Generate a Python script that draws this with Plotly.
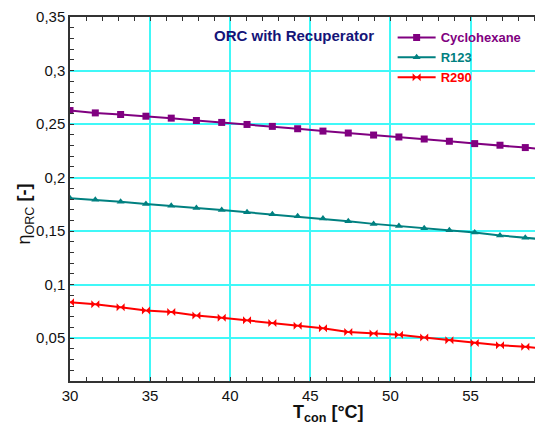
import plotly.graph_objects as go

t_con = [30.00, 31.58, 33.16, 34.74, 36.32, 37.89, 39.47, 41.05, 42.63, 44.21,
         45.79, 47.37, 48.95, 50.53, 52.11, 53.68, 55.26, 56.84, 58.42, 60.00]
eta_cyclohexane = [0.2627, 0.2605, 0.2590, 0.2574, 0.2556, 0.2534, 0.2516, 0.2497, 0.2479, 0.2457,
                   0.2435, 0.2417, 0.2398, 0.2380, 0.2361, 0.2340, 0.2318, 0.2303, 0.2281, 0.2259]
eta_r123 = [0.1808, 0.1794, 0.1775, 0.1753, 0.1738, 0.1716, 0.1697, 0.1676, 0.1657, 0.1639,
            0.1618, 0.1593, 0.1568, 0.1549, 0.1528, 0.1509, 0.1488, 0.1460, 0.1438, 0.1417]
eta_r290 = [0.0836, 0.0818, 0.0790, 0.0759, 0.0744, 0.0713, 0.0690, 0.0667, 0.0641, 0.0616,
            0.0593, 0.0558, 0.0544, 0.0531, 0.0506, 0.0481, 0.0454, 0.0435, 0.0419, 0.0398]

series = [
    ("Cyclohexane", eta_cyclohexane, "#800080", "square", 7),
    ("R123", eta_r123, "#008080", "triangle-up", 7),
    ("R290", eta_r290, "#FF0000", "bowtie", 8),
]

FONT = "Liberation Sans, Arial, sans-serif"
fig = go.Figure()
for name, ys, col, sym, sz in series:
    fig.add_trace(go.Scatter(
        x=t_con, y=ys, mode="lines+markers",
        name=f'<span style="color:{col}"><b>{name}</b></span>',
        line=dict(color=col, width=2),
        marker=dict(symbol=sym, size=sz, color=col),
    ))

axis_common = dict(
    showline=True, linecolor="#333333", linewidth=1.5, mirror="allticks",
    ticks="inside", ticklen=4, tickcolor="#333333",
    showgrid=True, gridcolor="#40F8F8", gridwidth=1.5,
    zeroline=False, ticklabeloverflow="allow",
    tickfont=dict(family=FONT, size=15, color="#111111"),
)

fig.update_xaxes(range=[30, 59.4], dtick=5, tick0=30,
                 minor=dict(dtick=1, ticks="inside", ticklen=4, tickcolor="#333333", showgrid=False),
                 **axis_common)
fig.update_yaxes(range=[0.01, 0.3501], dtick=0.05, tick0=0,
                 minor=dict(dtick=0.01, ticks="inside", ticklen=4, tickcolor="#333333", showgrid=False),
                 **axis_common)

# plot area on screen: x 70..543, y 14..381
def px(xs):
    return (xs - 70) / 473

def py(ys):
    return (381 - ys) / 367

fig.add_annotation(text="<b>ORC with Recuperator</b>", xref="paper", yref="paper",
                   x=px(295), y=py(33), xanchor="center", yanchor="middle", showarrow=False,
                   font=dict(family=FONT, size=15, color="#141478"))
fig.add_annotation(text="<b>T<sub>con</sub> [°C]</b>", xref="paper", yref="paper",
                   x=px(330), y=py(414), xanchor="center", yanchor="middle", showarrow=False,
                   font=dict(family=FONT, size=18, color="#111111"))
fig.add_annotation(text="η<sub>ORC</sub> <b>[-]</b>", xref="paper", yref="paper",
                   x=px(25), y=py(213), xanchor="center", yanchor="middle", showarrow=False,
                   textangle=-90,
                   font=dict(family=FONT, size=18, color="#111111"))

fig.update_layout(
    width=535, height=426,
    margin=dict(l=62, r=0, t=6, b=53),
    paper_bgcolor="white", plot_bgcolor="white",
    separators=",.",
    showlegend=True,
    legend=dict(x=0.685, y=0.985, xanchor="left", yanchor="top",
                bgcolor="rgba(0,0,0,0)", font=dict(family=FONT, size=13),
                itemwidth=38, tracegroupgap=0),
)

fig.write_html("out.html")
